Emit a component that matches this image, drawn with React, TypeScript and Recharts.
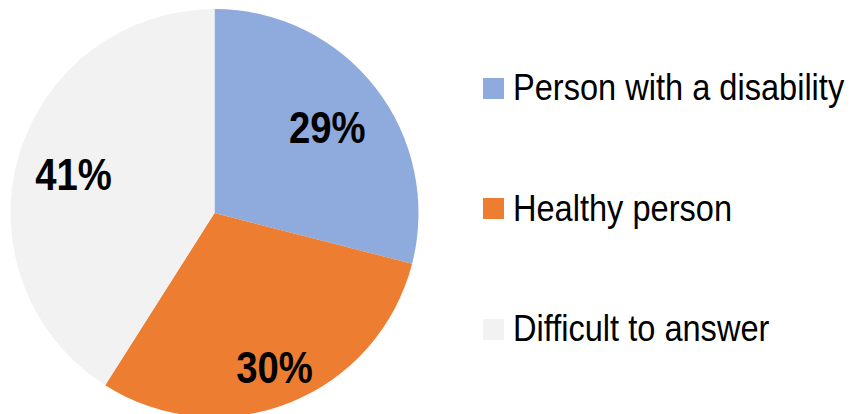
import { PieChart, Pie, Cell, Legend } from 'recharts';

const categories = ['Person with a disability', 'Healthy person', 'Difficult to answer'];
const shares = [29, 30, 41];
const colors = ['#8faadc', '#ed7d31', '#f2f2f2'];

// how far out each percentage sits, as a share of the radius
const labelRadius = [0.7, 0.8, 0.72];

const data = categories.map((name, i) => ({ name, value: shares[i] }));

const RAD = Math.PI / 180;
// no narrow font installed, so Liberation Sans gets squeezed horizontally
const FONT = '"Liberation Sans", Arial, sans-serif';

const renderLabel = (props: any) => {
  const { cx, cy, midAngle, outerRadius, index, value } = props;
  const r = outerRadius * labelRadius[index];
  const x = cx + r * Math.cos(-midAngle * RAD);
  const y = cy + r * Math.sin(-midAngle * RAD) + 3;
  return (
    <text
      x={0}
      y={0}
      transform={`translate(${x},${y}) scale(0.87,1)`}
      textAnchor="middle"
      dominantBaseline="central"
      fill="#000"
      fontFamily={FONT}
      fontWeight="bold"
      fontSize={44}
    >
      {`${value}%`}
    </text>
  );
};

const renderLegend = () => (
  <div>
    {categories.map((name, i) => (
      <div key={name} style={{ height: 120.5, display: 'flex', alignItems: 'center' }}>
        <span
          style={{
            width: 21,
            height: 21,
            background: colors[i],
            display: 'inline-block',
            marginRight: 9,
            flexShrink: 0,
          }}
        />
        <span
          style={{
            fontFamily: FONT,
            fontSize: 37,
            color: '#000',
            whiteSpace: 'nowrap',
            display: 'inline-block',
            transform: 'scaleX(0.88)',
            transformOrigin: 'left center',
          }}
        >
          {name}
        </span>
      </div>
    ))}
  </div>
);

export default function App() {
  return (
    <div style={{ position: 'absolute', left: 0, top: 0, width: 851, height: 414, background: '#fff' }}>
      <PieChart width={851} height={414} margin={{ top: 0, right: 0, bottom: 0, left: 0 }}>
        <Pie
          data={data}
          dataKey="value"
          nameKey="name"
          cx={214.5}
          cy={213}
          outerRadius={204}
          startAngle={90}
          endAngle={-270}
          stroke="none"
          label={renderLabel}
          labelLine={false}
          isAnimationActive={false}
        >
          {data.map((d, i) => (
            <Cell key={d.name} fill={colors[i]} />
          ))}
        </Pie>
        <Legend
          layout="vertical"
          content={renderLegend}
          wrapperStyle={{ position: 'absolute', left: 483, top: 28, width: 368 }}
        />
      </PieChart>
    </div>
  );
}
